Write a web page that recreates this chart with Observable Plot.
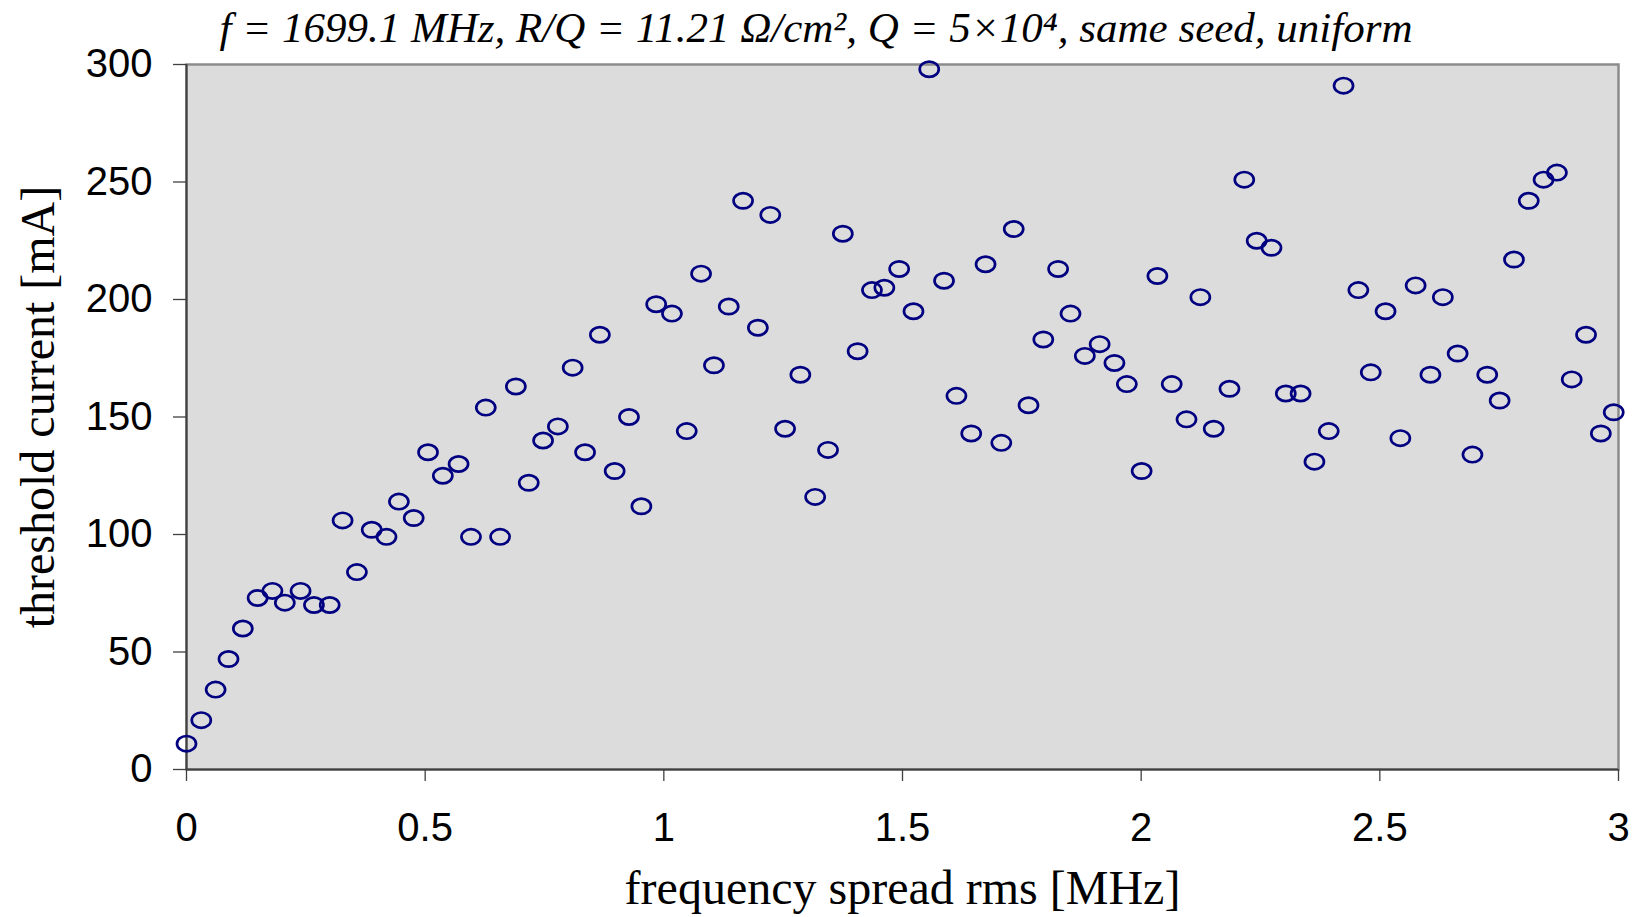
<!DOCTYPE html>
<html>
<head>
<meta charset="utf-8">
<script src="https://cdn.jsdelivr.net/npm/d3@7"></script>
<script src="https://cdn.jsdelivr.net/npm/@observablehq/plot@0.6"></script>
<style>
  html, body { margin: 0; padding: 0; background: white; }
</style>
</head>
<body>
<div id="chart"></div>
<script>
// frequency spread rms [MHz]
const spread = [
  0.000, 0.031, 0.061, 0.088, 0.118, 0.149, 0.180, 0.206, 0.239, 0.267,
  0.300, 0.327, 0.357, 0.388, 0.419, 0.445, 0.476, 0.506, 0.537, 0.570,
  0.596, 0.627, 0.657, 0.690, 0.717, 0.747, 0.778, 0.809, 0.835, 0.866,
  0.897, 0.927, 0.953, 0.984, 1.017, 1.048, 1.078, 1.105, 1.136, 1.166,
  1.197, 1.223, 1.254, 1.286, 1.317, 1.344, 1.375, 1.406, 1.436, 1.462,
  1.493, 1.523, 1.556, 1.587, 1.613, 1.644, 1.674, 1.707, 1.733, 1.764,
  1.795, 1.826, 1.852, 1.882, 1.913, 1.944, 1.970, 2.001, 2.034, 2.064,
  2.095, 2.124, 2.152, 2.185, 2.216, 2.242, 2.273, 2.303, 2.334, 2.363,
  2.393, 2.424, 2.455, 2.481, 2.512, 2.543, 2.575, 2.606, 2.632, 2.663,
  2.694, 2.725, 2.751, 2.781, 2.812, 2.843, 2.871, 2.902, 2.932, 2.963, 2.990
];
// threshold current [mA]
const current = [
  11, 21, 34, 47, 60, 73, 76, 71, 76, 70,
  70, 106, 84, 102, 99, 114, 107, 135, 125, 130,
  99, 154, 99, 163, 122, 140, 146, 171, 135, 185,
  127, 150, 112, 198, 194, 144, 211, 172, 197, 242,
  188, 236, 145, 168, 116, 136, 228, 178, 204, 205,
  213, 195, 298, 208, 159, 143, 215, 139, 230, 155,
  183, 213, 194, 176, 181, 173, 164, 127, 210, 164,
  149, 201, 145, 162, 251, 225, 222, 160, 160, 131,
  144, 291, 204, 169, 195, 141, 206, 168, 201, 177,
  134, 168, 157, 217, 242, 251, 254, 166, 185, 143, 152
];
const xTicks = [0, 0.5, 1, 1.5, 2, 2.5, 3];
const yTicks = [0, 50, 100, 150, 200, 250, 300];
const titleText = "f = 1699.1 MHz, R/Q = 11.21 Ω/cm², Q = 5×10⁴, same seed, uniform";
const xLabel = "frequency spread rms [MHz]";
const yLabel = "threshold current [mA]";

const points = spread.map((x, i) => ({x, y: current[i]}));

// horizontal ellipse marker
const ellipse = {
  draw(context, size) {
    const r = Math.sqrt(size / Math.PI);
    const rx = r * 1.12, ry = r * 0.9, k = 0.5523;
    context.moveTo(rx, 0);
    context.bezierCurveTo(rx, ry * k, rx * k, ry, 0, ry);
    context.bezierCurveTo(-rx * k, ry, -rx, ry * k, -rx, 0);
    context.bezierCurveTo(-rx, -ry * k, -rx * k, -ry, 0, -ry);
    context.bezierCurveTo(rx * k, -ry, rx, -ry * k, rx, 0);
    context.closePath();
  }
};

const chart = Plot.plot({
  width: 1640,
  height: 917,
  marginLeft: 186,
  marginRight: 22,
  marginTop: 64,
  marginBottom: 148,
  style: {background: "white", overflow: "visible"},
  x: {domain: [0, 3], nice: false},
  y: {domain: [0, 300], nice: false},
  marks: [
    Plot.frame({fill: "#dcdcdc", stroke: "#8c8c8c", strokeWidth: 2.5}),
    Plot.ruleX([0], {stroke: "#404040", strokeWidth: 2}),
    Plot.ruleY([0], {stroke: "#404040", strokeWidth: 2}),
    Plot.axisY(yTicks, {
      tickSize: 13, tickPadding: 21, stroke: "#404040", strokeWidth: 1.3,
      fontSize: 40, fontFamily: "Liberation Sans, Arial, sans-serif", fill: "black",
      label: null, tickFormat: d => String(d)
    }),
    Plot.axisX(xTicks, {
      tickSize: 12, tickPadding: 31, stroke: "#404040", strokeWidth: 1.3,
      fontSize: 40, fontFamily: "Liberation Sans, Arial, sans-serif", fill: "black",
      label: null, tickFormat: d => String(d)
    }),
    Plot.dot(points, {
      x: "x", y: "y", r: 8.5, symbol: ellipse,
      stroke: "#000080", strokeWidth: 2.7, fill: "none"
    }),
    Plot.text([titleText], {
      text: d => d, frameAnchor: "top-left", dx: 33, dy: -23,
      textAnchor: "start", lineAnchor: "bottom",
      fontFamily: "Liberation Serif, Times New Roman, serif", fontStyle: "italic", fontSize: 43, fill: "black"
    }),
    Plot.text([xLabel], {
      text: d => d, frameAnchor: "bottom", dy: 134,
      textAnchor: "middle", lineAnchor: "bottom",
      fontFamily: "Liberation Serif, Times New Roman, serif", fontSize: 48, fill: "black"
    }),
    Plot.text([yLabel], {
      text: d => d, frameAnchor: "left", dx: -133, dy: -10,
      rotate: -90, textAnchor: "middle", lineAnchor: "bottom",
      fontFamily: "Liberation Serif, Times New Roman, serif", fontSize: 48, fill: "black"
    })
  ]
});
document.getElementById("chart").appendChild(chart);
</script>
</body>
</html>
